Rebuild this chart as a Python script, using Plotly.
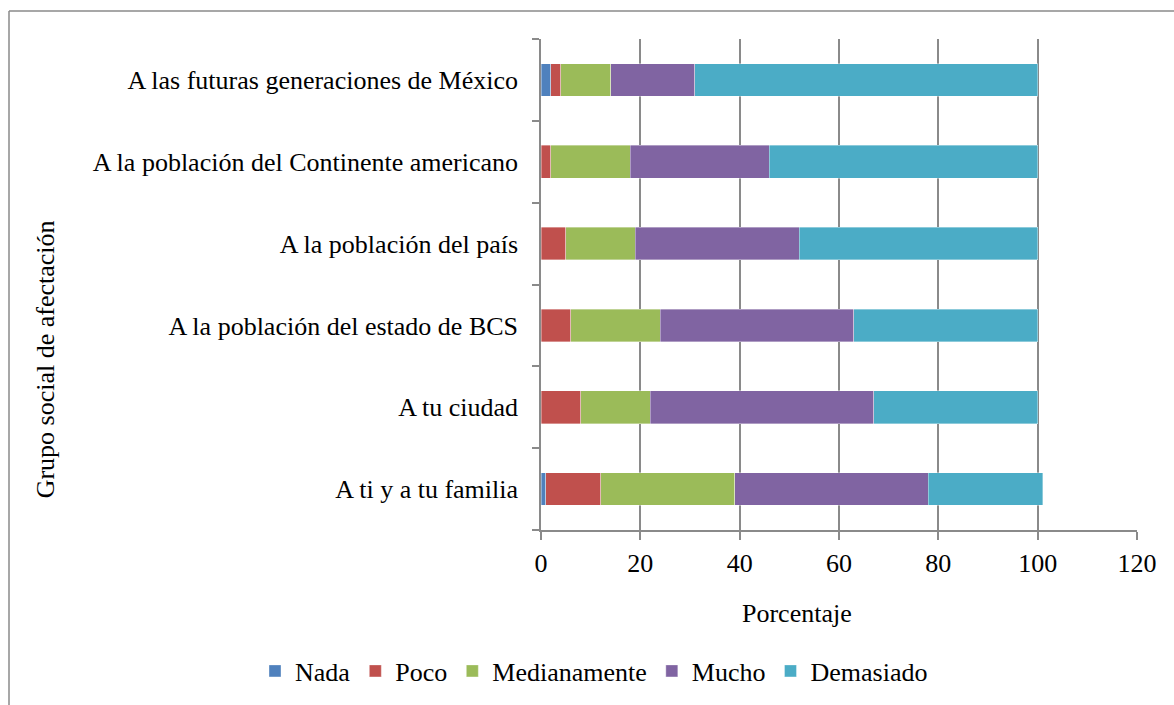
import plotly.graph_objects as go

# Survey groups (bottom to top) and percentage per response level
grupos = [
    "A ti y a tu familia",
    "A tu ciudad",
    "A la población del estado de BCS",
    "A la población del país",
    "A la población del Continente americano",
    "A las futuras generaciones de México",
]
nada = [1, 0, 0, 0, 0, 2]
poco = [11, 8, 6, 5, 2, 2]
medianamente = [27, 14, 18, 14, 16, 10]
mucho = [39, 45, 39, 33, 28, 17]
demasiado = [23, 33, 37, 48, 54, 69]

x_ticks = [0, 20, 40, 60, 80, 100, 120]

series = [
    ("Nada", nada, "#4F81BD"),
    ("Poco", poco, "#C0504D"),
    ("Medianamente", medianamente, "#9BBB59"),
    ("Mucho", mucho, "#8064A2"),
    ("Demasiado", demasiado, "#4BACC6"),
]

FONT = "Liberation Serif"
FS = 26
W, H = 1174, 705
L, R, T, B = 541, 37, 39, 174
pw = W - L - R
ph = H - T - B


def px_x(x):
    return (x - L) / pw


def px_y(y):
    return (H - B - y) / ph


fig = go.Figure()
for name, vals, color in series:
    fig.add_trace(go.Bar(
        y=grupos, x=vals, name=name, orientation="h",
        marker=dict(color=color, line=dict(color="rgba(255,255,255,0.6)", width=0.6)),
    ))

fig.update_layout(
    barmode="stack",
    bargap=0.6,
    width=W, height=H,
    margin=dict(l=L, r=R, t=T, b=B),
    paper_bgcolor="white",
    plot_bgcolor="white",
    font=dict(family=FONT, size=FS, color="black"),
    showlegend=True,
    legend=dict(
        orientation="h", x=px_x(255), y=px_y(671), xref="paper", yref="paper",
        xanchor="left", yanchor="middle",
        font=dict(family=FONT, size=FS, color="black"),
        itemwidth=30, traceorder="normal",
    ),
    xaxis=dict(
        range=[0, 120], tickvals=x_ticks, ticktext=[str(v) for v in x_ticks],
        showgrid=True, gridcolor="#8a8a8a", gridwidth=1.5,
        showline=True, linecolor="#8a8a8a", linewidth=1.5,
        ticks="outside", ticklen=8, tickcolor="#8a8a8a", tickwidth=1.5,
        zeroline=False, fixedrange=True, ticklabelstandoff=1,
        tickfont=dict(family=FONT, size=FS),
    ),
    yaxis=dict(
        categoryorder="array", categoryarray=grupos,
        showline=True, linecolor="#8a8a8a", linewidth=1.5,
        ticks="outside", ticklen=7, tickcolor="#8a8a8a", tickwidth=1.5,
        tickson="boundaries", showgrid=False, ticklabelstandoff=16,
        tickfont=dict(family=FONT, size=FS),
    ),
    annotations=[
        dict(text="Porcentaje", x=px_x(797), y=px_y(615), xref="paper", yref="paper",
             xanchor="center", yanchor="middle",
             showarrow=False, font=dict(family=FONT, size=FS)),
        dict(text="Grupo social de afectación", x=px_x(45), y=px_y(360),
             xref="paper", yref="paper", textangle=-90,
             xanchor="center", yanchor="middle",
             showarrow=False, font=dict(family=FONT, size=FS)),
    ],
)

# outer chart frame (left and top edges)
fig.add_shape(type="line", xref="paper", yref="paper",
              x0=px_x(9), x1=px_x(1200), y0=px_y(11), y1=px_y(11),
              line=dict(color="#8a8a8a", width=1.5))
fig.add_shape(type="line", xref="paper", yref="paper",
              x0=px_x(9), x1=px_x(9), y0=px_y(11), y1=px_y(720),
              line=dict(color="#8a8a8a", width=1.5))

fig.write_html("out.html")
